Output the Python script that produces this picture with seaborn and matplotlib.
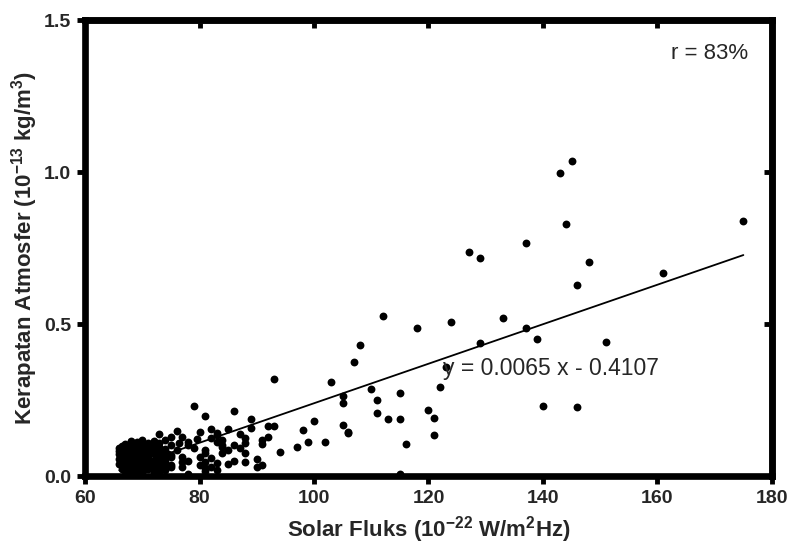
import matplotlib
matplotlib.use("Agg")
import matplotlib.pyplot as plt
import numpy as np
import pandas as pd
import seaborn as sns

# Solar flux (10^-22 W/m^2 Hz) and atmospheric density (10^-13 kg/m^3)
flux = [
    145, 143, 144, 137, 127, 129, 148, 175, 161, 146,
    112, 133, 124, 118, 137, 139, 151, 129, 108, 107,
    123, 93, 103, 110, 122, 115, 105, 111, 105, 140,
    146, 79, 86, 120, 111, 81, 121, 113, 115, 89,
    100, 105, 92, 93, 98, 106, 106, 89, 121, 99,
    102, 116, 97, 94, 92, 91, 91, 90, 91, 90,
    115, 78,
    73, 76, 82, 80, 85, 83, 84, 87, 88, 75,
    77, 78, 79, 78, 75, 76, 75, 77, 82, 83,
    81, 84, 85, 86, 87, 88, 80, 81, 81, 83,
    84, 82, 73, 72, 71, 74, 72, 73, 75, 75,
    77, 84, 83, 82, 81, 88, 88, 86, 85, 83,
    81, 80, 78, 77, 75, 74, 74, 73,
    66, 66, 66, 66, 66,
    67, 67, 67, 67, 67, 67, 67,
    68, 68, 68, 68, 68, 68, 68, 68, 68,
    69, 69, 69, 69, 69, 69, 69, 69, 69,
    70, 70, 70, 70, 70, 70, 70, 70, 70,
    71, 71, 71, 71, 71, 71, 71,
    72, 72, 72, 72, 72, 72,
    73, 73, 73, 73,
    74, 74, 74, 74,
    66.5, 66.5, 66.5, 66.5, 67.5, 67.5, 67.5, 67.5, 67.5,
    68.5, 68.5, 68.5, 68.5, 68.5, 69.5, 69.5, 69.5, 69.5, 69.5,
    70.5, 70.5, 70.5, 70.5, 71.5, 71.5, 71.5, 71.5, 72.5, 72.5, 72.5,
    73.5, 73.5, 76.5, 79.5, 74.5,
]
density = [
    1.037, 0.997, 0.830, 0.765, 0.737, 0.718, 0.705, 0.840, 0.668, 0.627,
    0.527, 0.520, 0.506, 0.487, 0.487, 0.452, 0.440, 0.437, 0.432, 0.376,
    0.357, 0.318, 0.308, 0.286, 0.294, 0.272, 0.264, 0.250, 0.241, 0.231,
    0.228, 0.230, 0.214, 0.216, 0.206, 0.197, 0.192, 0.189, 0.189, 0.188,
    0.182, 0.167, 0.165, 0.166, 0.152, 0.146, 0.140, 0.158, 0.135, 0.113,
    0.113, 0.105, 0.094, 0.080, 0.129, 0.118, 0.105, 0.057, 0.037, 0.031,
    0.005, 0.005,
    0.138, 0.148, 0.154, 0.144, 0.154, 0.135, 0.118, 0.137, 0.124, 0.127,
    0.129, 0.102, 0.091, 0.113, 0.102, 0.086, 0.069, 0.063, 0.058, 0.042,
    0.047, 0.075, 0.086, 0.102, 0.091, 0.075, 0.063, 0.075, 0.086, 0.113,
    0.102, 0.124, 0.080, 0.102, 0.047, 0.036, 0.025, 0.058, 0.036, 0.031,
    0.031, 0.096, 0.140, 0.030, 0.025, 0.107, 0.045, 0.050, 0.040, 0.020,
    0.015, 0.035, 0.050, 0.045, 0.063, 0.042, 0.020, 0.012,
    0.092, 0.071, 0.055, 0.038, 0.083,
    0.104, 0.088, 0.062, 0.045, 0.028, 0.075, 0.015,
    0.116, 0.097, 0.081, 0.066, 0.052, 0.034, 0.021, 0.009, 0.108,
    0.112, 0.094, 0.078, 0.059, 0.043, 0.027, 0.012, 0.086, 0.068,
    0.118, 0.101, 0.084, 0.070, 0.049, 0.031, 0.017, 0.061, 0.008,
    0.109, 0.092, 0.076, 0.056, 0.038, 0.022, 0.065,
    0.114, 0.088, 0.071, 0.048, 0.035, 0.014,
    0.096, 0.068, 0.045, 0.110,
    0.090, 0.061, 0.118, 0.048,
    0.098, 0.064, 0.046, 0.024, 0.097, 0.081, 0.053, 0.036, 0.010,
    0.102, 0.074, 0.058, 0.040, 0.016, 0.105, 0.070, 0.051, 0.034, 0.020,
    0.093, 0.078, 0.039, 0.024, 0.100, 0.083, 0.046, 0.030, 0.080, 0.057, 0.022,
    0.076, 0.030, 0.110, 0.122, 0.074,
]

# Linear fit reported on the chart
slope = 0.0065
intercept = -0.4107
r_text = "r = 83%"

x_ticks = [60, 80, 100, 120, 140, 160, 180]
y_ticks = [0.0, 0.5, 1.0, 1.5]

sns.set_theme(style="ticks")
plt.rcParams["font.family"] = ["Liberation Sans", "DejaVu Sans"]
plt.rcParams["mathtext.fontset"] = "custom"
plt.rcParams["mathtext.rm"] = "Liberation Sans:bold"
plt.rcParams["mathtext.bf"] = "Liberation Sans:bold"
plt.rcParams["mathtext.default"] = "bf"

df = pd.DataFrame({"flux": flux, "density": density})

fig = plt.figure(figsize=(7.9, 5.45), dpi=100)
ax = fig.add_axes([0.1076, 0.1266, 0.8696, 0.8367])

sns.scatterplot(data=df, x="flux", y="density", ax=ax, color="black",
                s=32, linewidth=0, zorder=3)

fit_x = np.array([min(flux), max(flux)])
fit = pd.DataFrame({"flux": fit_x, "density": slope * fit_x + intercept})
sns.lineplot(data=fit, x="flux", y="density", ax=ax, color="black",
             linewidth=1.3, zorder=4)

ax.set_xlim(60, 180)
ax.set_ylim(0, 1.5)
ax.set_xticks(x_ticks)
ax.set_yticks(y_ticks)
ax.set_xticklabels([str(v) for v in x_ticks])
ax.set_yticklabels([f"{v:.1f}" for v in y_ticks])

for side in ["left", "bottom", "top", "right"]:
    ax.spines[side].set_visible(True)
    ax.spines[side].set_linewidth(4.8)
    ax.spines[side].set_color("black")

ax.tick_params(axis="both", direction="out", length=6, width=3.5,
               color="black", pad=4, labelsize=14)
for lab in ax.get_xticklabels() + ax.get_yticklabels():
    lab.set_fontweight("bold")

# inward ticks on the top and right frame
top = ax.secondary_xaxis("top")
top.set_xticks(x_ticks)
top.tick_params(direction="in", length=6, width=3.5, color="black", labeltop=False)
top.spines["top"].set_linewidth(4.8)
right = ax.secondary_yaxis("right")
right.set_yticks(y_ticks)
right.tick_params(direction="in", length=6, width=3.5, color="black", labelright=False)
right.spines["right"].set_linewidth(4.8)

ax.set_xlabel(r"Solar Fluks (10$^{-22}$ W/m$^{2}$Hz)", fontsize=16,
              fontweight="bold", labelpad=5)
ax.set_ylabel(r"Kerapatan Atmosfer (10$^{-13}$ kg/m$^{3}$)", fontsize=16,
              fontweight="bold", labelpad=3)

ax.text(122.5, 0.355, f"y = {slope:.4f} x - {abs(intercept):.4f}",
        fontsize=16.5, ha="left", va="center", zorder=5)
ax.text(162.4, 1.39, r_text, fontsize=16, ha="left", va="center", zorder=5)

fig.savefig("out.png", dpi=100)
